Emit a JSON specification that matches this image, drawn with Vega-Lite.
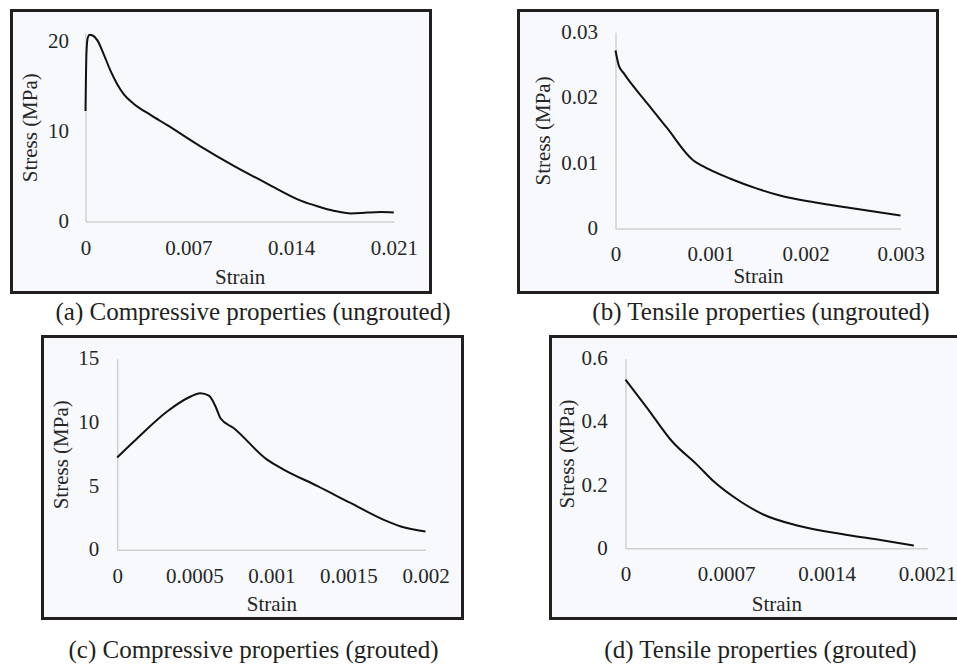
{
  "$schema": "https://vega.github.io/schema/vega-lite/v6.json",
  "padding": {"left": 9.5, "top": 8.5, "right": 0, "bottom": 0},
  "background": "white",
  "spacing": 8,
  "config": {
    "font": "Liberation Serif",
    "view": {"stroke": "#231f20", "strokeWidth": 3, "fill": "#f7f9fc"},
    "axis": {
      "domainColor": "#d0d0d0", "domainWidth": 1.5, "ticks": false, "grid": false,
      "labelFont": "Liberation Serif", "labelFontSize": 21, "labelColor": "#262626",
      "labelFlush": false, "labelOverlap": false, "labelBound": false,
      "titleFont": "Liberation Serif", "titleFontSize": 21, "titleFontWeight": "normal", "titleColor": "#262626",
      "format": "~g"
    },
    "title": {"font": "Liberation Serif", "fontSize": 25, "fontWeight": "normal", "color": "#231f20", "orient": "bottom", "anchor": "middle"},
    "line": {"color": "#111111", "strokeWidth": 2, "interpolate": "monotone"}
  },
  "datasets": {
    "a": [
      {"strain": 0, "stress": 12.3},
      {"strain": 0.00003, "stress": 16},
      {"strain": 0.00007, "stress": 19},
      {"strain": 0.00016, "stress": 20.5},
      {"strain": 0.00029, "stress": 20.8},
      {"strain": 0.00045, "stress": 20.75},
      {"strain": 0.0008, "stress": 20.2},
      {"strain": 0.00125, "stress": 18.6},
      {"strain": 0.0017, "stress": 16.8},
      {"strain": 0.00216, "stress": 15.3},
      {"strain": 0.0026, "stress": 14.2},
      {"strain": 0.0033, "stress": 13.1},
      {"strain": 0.0044, "stress": 11.9},
      {"strain": 0.0056, "stress": 10.7},
      {"strain": 0.0078, "stress": 8.4},
      {"strain": 0.0101, "stress": 6.2},
      {"strain": 0.0124, "stress": 4.2},
      {"strain": 0.0147, "stress": 2.3},
      {"strain": 0.0158, "stress": 1.7},
      {"strain": 0.0169, "stress": 1.2},
      {"strain": 0.0181, "stress": 0.9},
      {"strain": 0.0192, "stress": 1.0},
      {"strain": 0.0201, "stress": 1.05},
      {"strain": 0.021, "stress": 1.0}
    ],
    "b": [
      {"strain": 0, "stress": 0.0272},
      {"strain": 0.000035, "stress": 0.0249},
      {"strain": 0.000088, "stress": 0.0237},
      {"strain": 0.00033, "stress": 0.0192},
      {"strain": 0.00054, "stress": 0.0154},
      {"strain": 0.00082, "stress": 0.0104},
      {"strain": 0.00091, "stress": 0.0096},
      {"strain": 0.00121, "stress": 0.0076},
      {"strain": 0.00149, "stress": 0.0061},
      {"strain": 0.00174, "stress": 0.0050},
      {"strain": 0.00209, "stress": 0.0040},
      {"strain": 0.00244, "stress": 0.0032},
      {"strain": 0.003, "stress": 0.0020}
    ],
    "c": [
      {"strain": 0, "stress": 7.25},
      {"strain": 0.000108, "stress": 8.5},
      {"strain": 0.000324, "stress": 10.86},
      {"strain": 0.000454, "stress": 11.9},
      {"strain": 0.00054, "stress": 12.29},
      {"strain": 0.000595, "stress": 12.1},
      {"strain": 0.000638, "stress": 11.25},
      {"strain": 0.00067, "stress": 10.33},
      {"strain": 0.000757, "stress": 9.55},
      {"strain": 0.00097, "stress": 7.1},
      {"strain": 0.00108, "stress": 6.3},
      {"strain": 0.0013, "stress": 5.0},
      {"strain": 0.00151, "stress": 3.7},
      {"strain": 0.00173, "stress": 2.35},
      {"strain": 0.00184, "stress": 1.83},
      {"strain": 0.002, "stress": 1.44}
    ],
    "d": [
      {"strain": 0, "stress": 0.534},
      {"strain": 0.000151, "stress": 0.444},
      {"strain": 0.000325, "stress": 0.338},
      {"strain": 0.000499, "stress": 0.264},
      {"strain": 0.000615, "stress": 0.211},
      {"strain": 0.0008, "stress": 0.148},
      {"strain": 0.000963, "stress": 0.106},
      {"strain": 0.001195, "stress": 0.072},
      {"strain": 0.001543, "stress": 0.042},
      {"strain": 0.001775, "stress": 0.026},
      {"strain": 0.002007, "stress": 0.0086}
    ]
  },
  "vconcat": [
    {
      "bounds": "flush",
      "spacing": 0,
      "hconcat": [
        {
          "width": 419, "height": 282,
          "title": {"text": "(a) Compressive properties (ungrouted)", "dx": 32, "offset": 7},
          "data": {"name": "a"},
          "mark": "line",
          "encoding": {
            "x": {"field": "strain", "type": "quantitative",
                  "scale": {"domain": [0, 0.021], "range": [74, 382.3], "nice": false, "zero": false},
                  "axis": {"title": "Strain", "values": [0, 0.007, 0.014, 0.021], "offset": -71, "labelPadding": 16, "titlePadding": 8}},
            "y": {"field": "stress", "type": "quantitative",
                  "scale": {"domain": [0, 21], "range": [211, 22.5], "nice": false},
                  "axis": {"title": "Stress (MPa)", "values": [0, 10, 20], "offset": -74, "labelPadding": 17, "titlePadding": 7.5}}
          }
        },
        {
          "width": 88, "height": 282,
          "view": {"stroke": null, "fill": null},
          "data": {"values": []},
          "mark": "point"
        },
        {
          "width": 419, "height": 282,
          "title": {"text": "(b) Tensile properties (ungrouted)", "dx": 33, "offset": 7},
          "data": {"name": "b"},
          "mark": "line",
          "encoding": {
            "x": {"field": "strain", "type": "quantitative",
                  "scale": {"domain": [0, 0.003], "range": [97, 382], "nice": false, "zero": false},
                  "axis": {"title": "Strain", "values": [0, 0.001, 0.002, 0.003], "offset": -64, "labelPadding": 15, "titlePadding": 1}},
            "y": {"field": "stress", "type": "quantitative",
                  "scale": {"domain": [0, 0.03], "range": [218, 21.7], "nice": false},
                  "axis": {"title": "Stress (MPa)", "values": [0, 0.01, 0.02, 0.03], "offset": -97, "labelPadding": 18, "titlePadding": 7.5}}
          }
        }
      ]
    },
    {
      "bounds": "flush",
      "spacing": 0,
      "hconcat": [
        {
          "width": 31, "height": 282,
          "view": {"stroke": null, "fill": null},
          "data": {"values": []},
          "mark": "point"
        },
        {
          "width": 420, "height": 282,
          "title": {"text": "(c) Compressive properties (grouted)", "dx": 1, "offset": 19},
          "data": {"name": "c"},
          "mark": "line",
          "encoding": {
            "x": {"field": "strain", "type": "quantitative",
                  "scale": {"domain": [0, 0.002], "range": [74.7, 383], "nice": false, "zero": false},
                  "axis": {"title": "Strain", "values": [0, 0.0005, 0.001, 0.0015, 0.002], "offset": -68.7, "labelPadding": 15.5, "titlePadding": 7}},
            "y": {"field": "stress", "type": "quantitative",
                  "scale": {"domain": [0, 15], "range": [213.3, 22.3], "nice": false},
                  "axis": {"title": "Stress (MPa)", "values": [0, 5, 10, 15], "offset": -74.7, "labelPadding": 18.4, "titlePadding": 6}}
          }
        },
        {
          "width": 88, "height": 282,
          "view": {"stroke": null, "fill": null},
          "data": {"values": []},
          "mark": "point"
        },
        {
          "width": 410, "height": 282,
          "title": {"text": "(d) Tensile properties (grouted)", "dx": 5, "offset": 19},
          "data": {"name": "d"},
          "mark": "line",
          "encoding": {
            "x": {"field": "strain", "type": "quantitative",
                  "scale": {"domain": [0, 0.0021], "range": [75, 376.7], "nice": false, "zero": false},
                  "axis": {"title": "Strain", "values": [0, 0.0007, 0.0014, 0.0021], "offset": -70.3, "labelPadding": 15.5, "titlePadding": 8.4}},
            "y": {"field": "stress", "type": "quantitative",
                  "scale": {"domain": [0, 0.6], "range": [211.7, 22.3], "nice": false},
                  "axis": {"title": "Stress (MPa)", "values": [0, 0.2, 0.4, 0.6], "offset": -75, "labelPadding": 18.3, "titlePadding": 3.5}}
          }
        }
      ]
    }
  ]
}
